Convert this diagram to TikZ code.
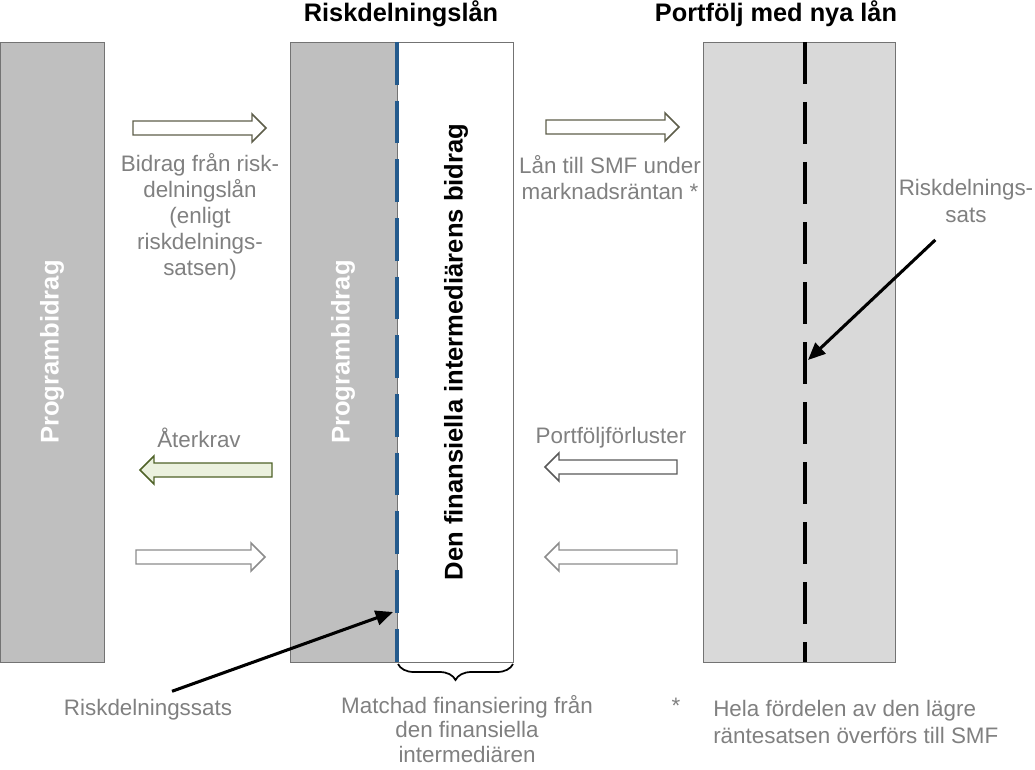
\documentclass[tikz,border=0pt]{standalone}
\usepackage{fontspec}
\setmainfont{Liberation Sans}
\usepackage{xcolor}
\usetikzlibrary{arrows.meta,decorations.pathreplacing}
\definecolor{bargray}{HTML}{BFBFBF}
\definecolor{boxgray}{HTML}{D9D9D9}
\definecolor{dashblue}{HTML}{245A8C}
\definecolor{textgray}{HTML}{808080}
\definecolor{arrline}{HTML}{5E5E4A}
\definecolor{greenline}{HTML}{4F6228}
\definecolor{greenfill}{HTML}{EBF1DE}

\begin{document}
\begin{tikzpicture}[x=0.75pt,y=-0.75pt,
  lbl/.style={text=textgray,font=\fontsize{16.8}{19.6}\selectfont,align=center,inner sep=0pt},
  title/.style={font=\fontsize{19}{22}\selectfont\bfseries,inner sep=0pt},
  vlbl/.style={font=\fontsize{19.2}{22}\selectfont\bfseries,rotate=90,inner sep=0pt},
  barline/.style={draw=black!55,line width=0.7pt},
  blockarr/.style={draw=arrline,line width=1.1pt,fill=white,line join=miter},
  pointer/.style={-{Triangle[length=13pt,width=11pt]},line width=2.3pt}]
  \useasboundingbox (0,0) rectangle (1035,770);
  % the three columns
  \filldraw[fill=bargray,barline] (0,42) rectangle (104,662);
  \filldraw[fill=bargray,barline] (290,42) rectangle (397,662);
  \filldraw[fill=white,barline] (397,42) rectangle (513,662);
  \filldraw[fill=boxgray,barline] (703,42) rectangle (895,662);
  \draw[dashblue,line width=3pt,dash pattern=on 32pt off 12pt] (397,42) -- (397,662);
  \draw[line width=3pt,dash pattern=on 31.5pt off 13.5pt] (805,42) -- (805,662);
  % titles and column texts
  \node[title] (tRisk) at (401,14) {Riskdelningslån};
  \node[title] (tPort) at (776,14) {Portfölj med nya lån};
  \node[vlbl,text=white] (progL) at (52,352) {Programbidrag};
  \node[vlbl,text=white] (progM) at (343,352) {Programbidrag};
  \node[vlbl] (inter) at (456,352) {Den finansiella intermediärens bidrag};
  % block arrows
  \draw[blockarr] (133,121) -- (252,121) -- (252,114) -- (266,128) -- (252,142) -- (252,135) -- (133,135) -- cycle;
  \draw[blockarr] (546,120) -- (665,120) -- (665,113) -- (679,127) -- (665,141) -- (665,134) -- (546,134) -- cycle;
  \draw[blockarr,draw=greenline,fill=greenfill] (272,463) -- (154,463) -- (154,456) -- (140,470) -- (154,484) -- (154,477) -- (272,477) -- cycle;
  \draw[blockarr,draw=black!65] (677,460) -- (559,460) -- (559,453) -- (545,467) -- (559,481) -- (559,474) -- (677,474) -- cycle;
  \draw[blockarr,draw=black!45] (136,550) -- (251,550) -- (251,543) -- (265,557) -- (251,571) -- (251,564) -- (136,564) -- cycle;
  \draw[blockarr,draw=black!45] (677,550) -- (559,550) -- (559,543) -- (545,557) -- (559,571) -- (559,564) -- (677,564) -- cycle;
  % labels
  \node[lbl] (bidrag) at (200,217) {Bidrag från risk-\\delningslån\\(enligt\\riskdelnings-\\satsen)};
  \node[lbl] (lanSMF) at (610,178) {Lån till SMF under\\marknadsräntan *};
  \node[lbl] (aterkrav) at (199,438) {Återkrav};
  \node[lbl] (forlust) at (611,438) {Portföljförluster};
  \node[lbl] (riskL) at (148,710) {Riskdelningssats};
  \node[lbl] (riskR) at (966,201) {Riskdelnings-\\sats};
  \node[lbl,font=\fontsize{16.8}{18.6}\selectfont] (matchad) at (467,729) {Matchad finansiering från\\den finansiella\\intermediären};
  \node[lbl] (star) at (676,706) {*};
  \node[lbl,anchor=west,align=left] (hela) at (713,722) {Hela fördelen av den lägre\\räntesatsen överförs till SMF};
  % pointers and brace
  \coordinate (hitM) at (393,612);
  \coordinate (hitR) at (808,360);
  \draw[pointer] ([xshift=18pt,yshift=6pt]riskL.north) -- (hitM);
  \draw[pointer] ([xshift=-23pt,yshift=-13pt]riskR.south) -- (hitR);
  \draw[decorate,decoration={brace,amplitude=12pt,mirror},line width=1.3pt] (398,664) -- (513,664);
\end{tikzpicture}
\end{document}
